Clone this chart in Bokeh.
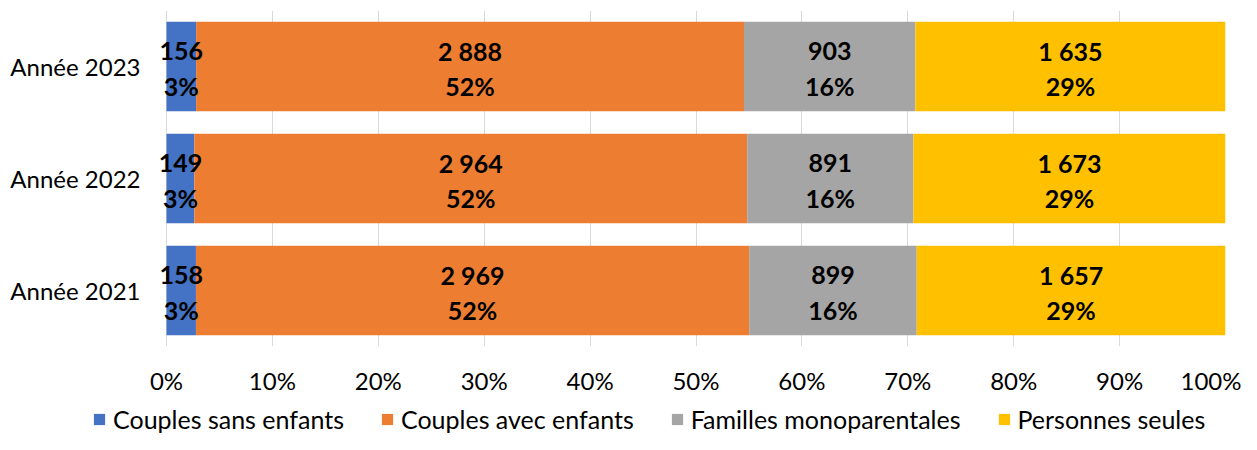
from bokeh.plotting import figure
from bokeh.layouts import column
from bokeh.models import (ColumnDataSource, FactorRange, Range1d, Legend, LegendItem,
                          FixedTicker, NumeralTickFormatter)
from bokeh.core.properties import value
from bokeh.embed import file_html
from bokeh.resources import INLINE

years = ["Année 2021", "Année 2022", "Année 2023"]
series = ["Couples sans enfants", "Couples avec enfants", "Familles monoparentales", "Personnes seules"]
colors = ["#4472C4", "#ED7D31", "#A5A5A5", "#FFC000"]

couples_sans = [158, 149, 156]
couples_avec = [2969, 2964, 2888]
familles_mono = [899, 891, 903]
personnes_seules = [1657, 1673, 1635]

count_labels = [
    ["158", "149", "156"],
    ["2 969", "2 964", "2 888"],
    ["899", "891", "903"],
    ["1 657", "1 673", "1 635"],
]
pct_labels = [
    ["3%", "3%", "3%"],
    ["52%", "52%", "52%"],
    ["16%", "16%", "16%"],
    ["29%", "29%", "29%"],
]
x_ticks = [0, 0.1, 0.2, 0.3, 0.4, 0.5, 0.6, 0.7, 0.8, 0.9, 1.0]

FONT = "Lato"
FS = "24px"
FS_LBL = "25px"
FS_LEG = "25px"

data = [couples_sans, couples_avec, familles_mono, personnes_seules]
totals = [sum(col) for col in zip(*data)]

PAD = 10 / 1059  # small room left of 0% so the first labels are not clipped

p = figure(width=1241, height=404, y_range=FactorRange(factors=years),
           x_range=Range1d(-PAD, 1), output_backend="svg", toolbar_location=None,
           min_border_left=156, min_border_right=16, min_border_top=10, min_border_bottom=58)
p.frame_align = False
p.outline_line_color = None
p.background_fill_color = "white"

sources = []
left = [0.0] * 3
for i, vals in enumerate(data):
    fr = [v / t for v, t in zip(vals, totals)]
    right = [l + f for l, f in zip(left, fr)]
    mid = [(l + r) / 2 for l, r in zip(left, right)]
    src = ColumnDataSource(dict(y=years, left=left, right=right, mid=mid,
                                cnt=count_labels[i], pct=pct_labels[i]))
    sources.append(src)
    p.hbar(y="y", left="left", right="right", height=0.8, source=src,
           fill_color=colors[i], line_color=None)
    left = right

for src in sources:
    for col, off in (("cnt", -16), ("pct", 19)):
        p.text(x="mid", y="y", text=col, source=src, text_align="center",
               text_baseline="middle", y_offset=off, text_font=value(FONT),
               text_font_style="bold", text_font_size=FS_LBL, text_color="black")

p.xaxis.ticker = FixedTicker(ticks=x_ticks)
p.xaxis.formatter = NumeralTickFormatter(format="0%")
p.xaxis.axis_line_color = None
p.xaxis.major_tick_line_color = None
p.xaxis.major_tick_out = 0
p.xaxis.major_tick_in = 0
p.xaxis.minor_tick_line_color = None
p.xaxis.major_label_standoff = 19
p.xaxis.major_label_text_font = FONT
p.xaxis.major_label_text_font_size = FS
p.xaxis.major_label_text_color = "black"

p.yaxis.axis_line_color = None
p.yaxis.major_tick_line_color = None
p.yaxis.major_tick_out = 0
p.yaxis.major_tick_in = 0
p.yaxis.minor_tick_line_color = None
p.yaxis.major_label_standoff = 16
p.yaxis.major_label_text_font = FONT
p.yaxis.major_label_text_font_size = FS
p.yaxis.major_label_text_color = "black"

p.xgrid.grid_line_color = "#D9D9D9"
p.xgrid.grid_line_width = 1
p.ygrid.grid_line_color = None

# legend strip
pl = figure(width=1241, height=30, x_range=Range1d(0, 1), y_range=Range1d(0, 1),
            output_backend="svg", toolbar_location=None, x_axis_type=None, y_axis_type=None,
            min_border=0, min_border_left=0, min_border_right=0, min_border_top=0,
            min_border_bottom=0)
pl.frame_align = False
pl.outline_line_color = None
pl.xgrid.grid_line_color = None
pl.ygrid.grid_line_color = None
# zero-size placeholder renderers, only used to draw the legend swatches
leg_renderers = [pl.hbar(y=[0.5], left=[0], right=[0], height=0, fill_color=c, line_color=None)
                 for c in colors]
legend = Legend(items=[LegendItem(label=s, renderers=[r]) for s, r in zip(series, leg_renderers)],
                orientation="horizontal", location=(92, 0),
                label_text_font=FONT, label_text_font_size=FS_LEG, label_text_color="black",
                glyph_width=14, glyph_height=14, label_standoff=7, spacing=36,
                padding=0, margin=0, border_line_color=None, background_fill_alpha=0)
pl.add_layout(legend, "center")

open("out.html", "w").write(file_html(column(p, pl, spacing=0), INLINE))
